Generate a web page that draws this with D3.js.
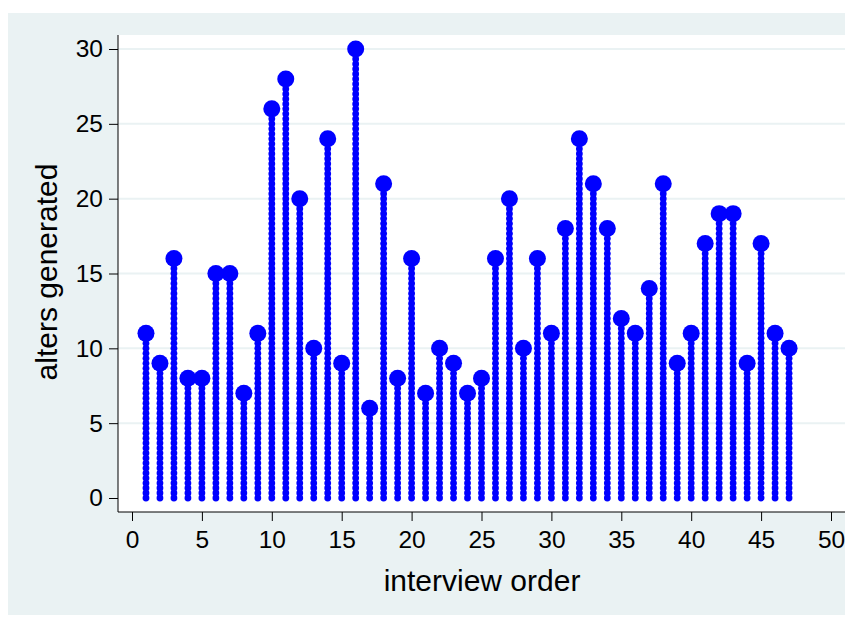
<!DOCTYPE html>
<html>
<head>
<meta charset="utf-8">
<script src="https://cdn.jsdelivr.net/npm/d3@7/dist/d3.min.js"></script>
<style>
  body { margin: 0; background: #ffffff; }
  svg { display: block; }
  text { font-family: "Liberation Sans", Arial, sans-serif; fill: #000; }
</style>
</head>
<body>
<svg id="chart" width="853" height="628"></svg>
<script>
// interview order (1..47) and number of alters generated per interview
const order = d3.range(1, 48);
const alters = [11, 9, 16, 8, 8, 15, 15, 7, 11, 26, 28, 20, 10, 24, 9, 30, 6, 21, 8, 16,
                7, 10, 9, 7, 8, 16, 20, 10, 16, 11, 18, 24, 21, 18, 12, 11, 14, 21, 9, 11,
                17, 19, 19, 9, 17, 11, 10];
const xTicks = [0, 5, 10, 15, 20, 25, 30, 35, 40, 45, 50];
const yTicks = [0, 5, 10, 15, 20, 25, 30];

const svg = d3.select("#chart");
const blue = "#0000ff";
const font = "'Liberation Sans', Arial, sans-serif";

// graph region background
svg.append("rect").attr("x", 8).attr("y", 13).attr("width", 837).attr("height", 602)
  .attr("fill", "#eaf2f3");

// plot region
const plot = { left: 118, top: 35, right: 845, bottom: 512 };
svg.append("rect").attr("x", plot.left).attr("y", plot.top)
  .attr("width", plot.right - plot.left).attr("height", plot.bottom - plot.top)
  .attr("fill", "#ffffff");

const x = d3.scaleLinear().domain([0, 50]).range([132, 831]);
const y = d3.scaleLinear().domain([0, 30]).range([498, 49]);

// horizontal grid lines
svg.append("g").selectAll("line").data(yTicks.filter(d => d > 0)).join("line")
  .attr("x1", plot.left).attr("x2", plot.right)
  .attr("y1", d => y(d)).attr("y2", d => y(d))
  .attr("stroke", "#eaf2f3").attr("stroke-width", 2);

// y axis
const yAxis = svg.append("g").attr("transform", `translate(${plot.left},0)`)
  .call(d3.axisLeft(y).tickValues(yTicks).tickSize(9).tickPadding(6));
yAxis.select(".domain").attr("d", `M0,${plot.top}V${plot.bottom}`);

// x axis
const xAxis = svg.append("g").attr("transform", `translate(0,${plot.bottom})`)
  .call(d3.axisBottom(x).tickValues(xTicks).tickSize(9).tickPadding(10));
xAxis.select(".domain").attr("d", `M${plot.left},0H${plot.right}`);

svg.selectAll("g.tick text").attr("font-size", 24.5).attr("font-family", font);
svg.selectAll(".domain, .tick line").attr("stroke", "#000").attr("stroke-width", 1);

// axis titles
svg.append("text").attr("x", 482).attr("y", 591).attr("text-anchor", "middle")
  .attr("font-family", font).attr("font-size", 30).text("interview order");
svg.append("text").attr("transform", "translate(57,272) rotate(-90)")
  .attr("text-anchor", "middle").attr("font-family", font).attr("font-size", 30)
  .text("alters generated");

// dotted stems: small markers every third of a unit from 0 up to the value
const data = order.map((o, i) => ({ o, v: alters[i] }));
const stemDots = data.flatMap(d =>
  d3.range(0, Math.round(d.v * 3) + 1).map(k => ({ o: d.o, v: k / 3 })));
svg.append("g").selectAll("circle").data(stemDots).join("circle")
  .attr("cx", d => x(d.o)).attr("cy", d => y(d.v)).attr("r", 3.4)
  .attr("fill", blue);

// head markers
svg.append("g").selectAll("circle").data(data).join("circle")
  .attr("cx", d => x(d.o)).attr("cy", d => y(d.v)).attr("r", 8.5)
  .attr("fill", blue);
</script>
</body>
</html>
